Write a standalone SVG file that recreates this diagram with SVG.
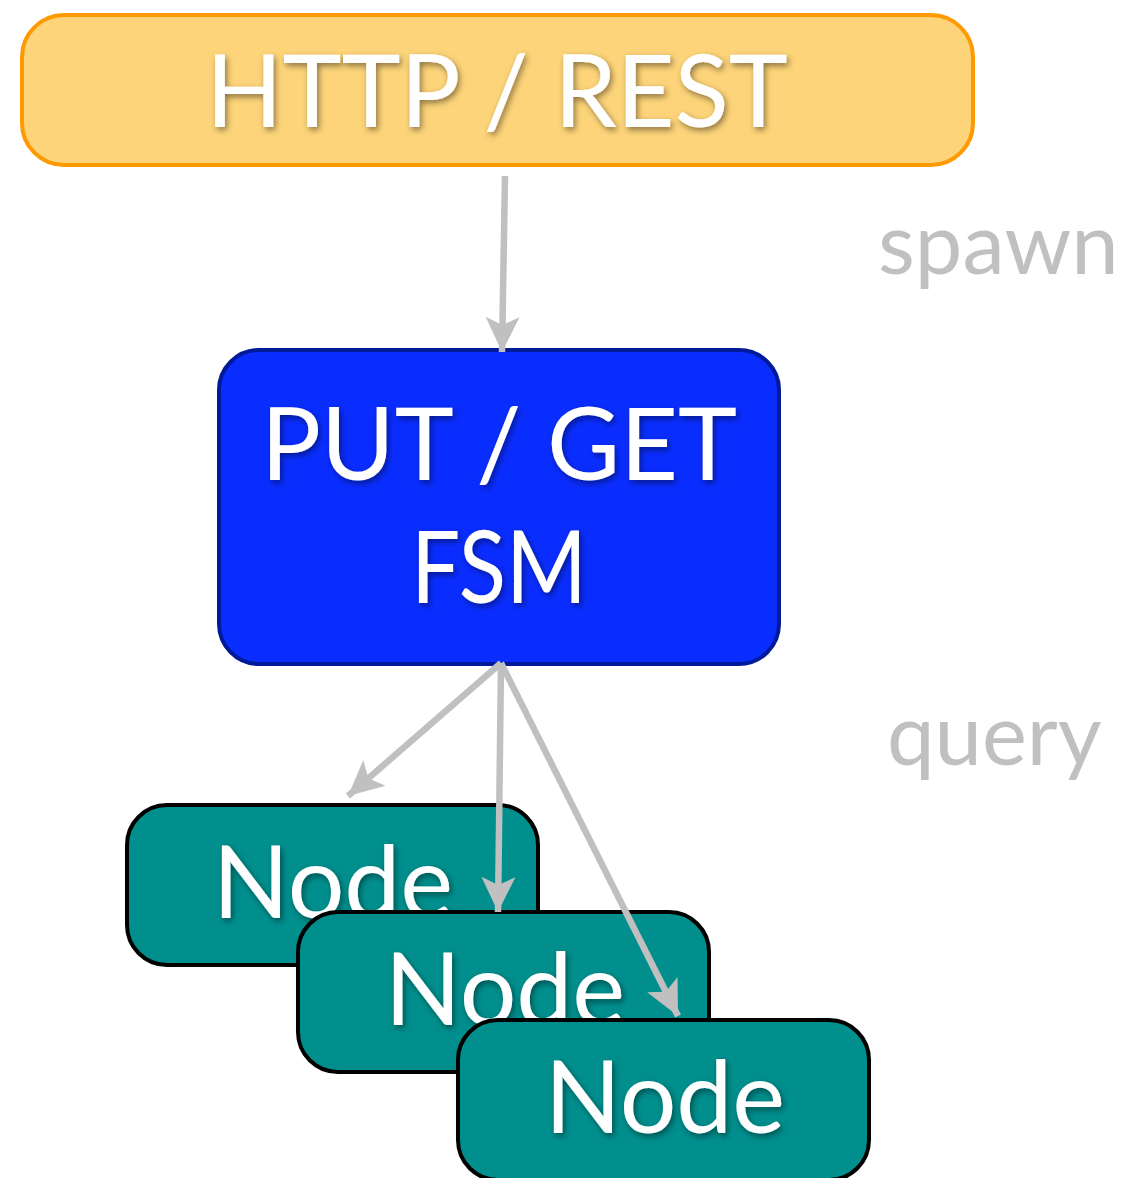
<svg xmlns="http://www.w3.org/2000/svg" width="1132" height="1178" viewBox="0 0 1132 1178">
  <defs>
    <filter id="txtShadow" x="-10%" y="-20%" width="120%" height="150%">
      <feDropShadow dx="2" dy="3" stdDeviation="3" flood-color="#000" flood-opacity="0.45"/>
    </filter>
    <marker id="arrowHead" markerUnits="userSpaceOnUse" viewBox="-36 -18 38 36" refX="0" refY="0" markerWidth="38" markerHeight="36" orient="auto">
      <path d="M0,0 L-35,-17 L-27,0 L-35,17 Z" fill="#c0c0c0"/>
    </marker>
    <style>
      .label { font-family: "Lato", "Open Sans", "DejaVu Sans", sans-serif; fill: #fff; text-anchor: middle; filter: url(#txtShadow); }
      .edgeLabel { font-family: "Lato", "Open Sans", "DejaVu Sans", sans-serif; fill: #c0c0c0; font-size: 85px; }
      .node { fill: #008f8d; stroke: #000; stroke-width: 4; }
      .edge { stroke: #c0c0c0; stroke-width: 6.5; fill: none; marker-end: url(#arrowHead); }
    </style>
  </defs>

  <rect width="1132" height="1178" fill="#fff"/>

  <!-- HTTP front end -->
  <g id="http-rest">
    <rect x="22" y="15" width="951" height="150" rx="42" fill="#fdd479" stroke="#ff9900" stroke-width="4"/>
    <text class="label" x="497" y="127" font-size="100">HTTP / REST</text>
  </g>

  <!-- request state machine -->
  <g id="put-get-fsm">
    <rect x="219" y="350" width="560" height="314" rx="40" fill="#0a2dff" stroke="#001a99" stroke-width="4"/>
    <text class="label" x="499" y="480" font-size="100">PUT / GET</text>
    <text class="label" x="499" y="603" font-size="100" textLength="176" lengthAdjust="spacingAndGlyphs">FSM</text>
  </g>

  <!-- storage nodes, stacked back to front -->
  <g id="node-1">
    <rect class="node" x="127" y="805" width="411" height="160" rx="40"/>
    <text class="label" x="333" y="918" font-size="100">Node</text>
  </g>
  <g id="node-2">
    <rect class="node" x="298" y="912" width="411" height="160" rx="40"/>
    <text class="label" x="505" y="1025" font-size="100">Node</text>
  </g>
  <g id="node-3">
    <rect class="node" x="458" y="1020" width="411" height="160" rx="40"/>
    <text class="label" x="665" y="1133" font-size="100">Node</text>
  </g>

  <!-- connectors -->
  <g id="connectors">
    <line class="edge" x1="505" y1="176" x2="502" y2="352"/>
    <line class="edge" x1="501" y1="663" x2="348" y2="796"/>
    <line class="edge" x1="501" y1="663" x2="498" y2="912"/>
    <line class="edge" x1="501" y1="663" x2="678" y2="1016"/>
    <text class="edgeLabel" x="878" y="274">spawn</text>
    <text class="edgeLabel" x="887" y="765">query</text>
  </g>
</svg>
